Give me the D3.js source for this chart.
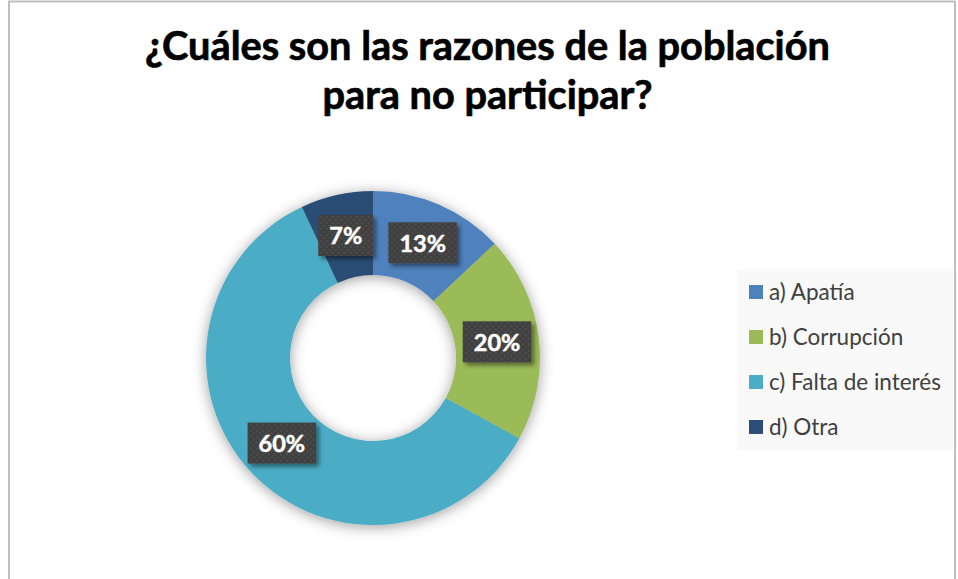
<!DOCTYPE html>
<html>
<head>
<meta charset="utf-8">
<script src="https://cdn.jsdelivr.net/npm/d3@7"></script>
<style>
  html, body { margin: 0; padding: 0; background: #fff; }
  svg { display: block; }
</style>
</head>
<body>
<div id="chart"></div>
<script>
const categories = ["a) Apatía", "b) Corrupción", "c) Falta de interés", "d) Otra"];
const values = [13, 20, 60, 7];
const labels = ["13%", "20%", "60%", "7%"];
const colors = ["#4F81BD", "#9BBB59", "#4BACC6", "#2C4D75"];
const titleLines = ["¿Cuáles son las razones de la población", "para no participar?"];

const width = 958, height = 579;
const cx = 373, cy = 358, outerR = 167, innerR = 83;

const svg = d3.select("#chart").append("svg")
  .attr("width", width)
  .attr("height", height);

const defs = svg.append("defs");

// soft shadow round the ring
const ringShadow = defs.append("filter").attr("id", "ringShadow")
  .attr("x", "-20%").attr("y", "-20%").attr("width", "140%").attr("height", "140%");
ringShadow.append("feDropShadow")
  .attr("dx", 0).attr("dy", 2)
  .attr("stdDeviation", 7)
  .attr("flood-color", "#000")
  .attr("flood-opacity", 0.38);

// shadow of label boxes
const boxShadow = defs.append("filter").attr("id", "boxShadow")
  .attr("x", "-20%").attr("y", "-20%").attr("width", "150%").attr("height", "150%");
boxShadow.append("feDropShadow")
  .attr("dx", 3).attr("dy", 3)
  .attr("stdDeviation", 2)
  .attr("flood-color", "#000")
  .attr("flood-opacity", 0.45);

// dotted texture of the label boxes
const dots = defs.append("pattern").attr("id", "dots")
  .attr("patternUnits", "userSpaceOnUse")
  .attr("width", 6).attr("height", 6);
dots.append("rect").attr("width", 6).attr("height", 6).attr("fill", "#404040");
dots.append("rect").attr("x", 1).attr("y", 1).attr("width", 2).attr("height", 2).attr("fill", "#4e4e4e");
dots.append("rect").attr("x", 4).attr("y", 4).attr("width", 2).attr("height", 2).attr("fill", "#4e4e4e");

// chart frame
svg.append("rect")
  .attr("x", 9).attr("y", 1.5)
  .attr("width", 946).attr("height", 620)
  .attr("fill", "#fff")
  .attr("stroke", "#bfbfbf")
  .attr("stroke-width", 2);

// fit a text element to a target width by changing its font size
function fitWidth(sel, target) {
  const node = sel.node();
  const size = parseFloat(sel.attr("font-size"));
  const w = node.getComputedTextLength();
  sel.attr("font-size", (size * target / w).toFixed(2));
}

// Title
const titleBase = [60, 109];
const titles = svg.selectAll(".title")
  .data(titleLines)
  .enter()
  .append("text")
    .attr("class", "title")
    .attr("x", 487.5)
    .attr("y", (d, i) => titleBase[i])
    .attr("text-anchor", "middle")
    .attr("font-family", "Lato, 'Open Sans', sans-serif")
    .attr("font-weight", "bold")
    .attr("font-size", 36)
    .attr("fill", "#000")
    .attr("stroke", "#000")
    .attr("stroke-width", 0.7)
    .text(d => d);
const firstLine = titles.filter((d, i) => i === 0);
fitWidth(firstLine, 685);
titles.attr("font-size", firstLine.attr("font-size"));

// Donut
const pie = d3.pie().sort(null).value(d => d);
const arc = d3.arc().innerRadius(innerR).outerRadius(outerR);
const labelArc = d3.arc().innerRadius((innerR + outerR) / 2).outerRadius((innerR + outerR) / 2);
const arcs = pie(values);

const g = svg.append("g").attr("transform", "translate(" + cx + "," + cy + ")");

g.append("g")
  .attr("filter", "url(#ringShadow)")
  .selectAll("path")
  .data(arcs)
  .enter()
  .append("path")
    .attr("d", arc)
    .attr("fill", (d, i) => colors[i]);

// Data labels
const lab = g.selectAll(".label")
  .data(arcs)
  .enter()
  .append("g")
    .attr("class", "label")
    .attr("transform", d => "translate(" + labelArc.centroid(d) + ")");

lab.append("rect")
  .attr("fill", "url(#dots)")
  .attr("filter", "url(#boxShadow)");

lab.append("text")
  .attr("text-anchor", "middle")
  .attr("dy", "0.36em")
  .attr("font-family", "Lato, 'Open Sans', sans-serif")
  .attr("font-weight", "bold")
  .attr("font-size", 23.5)
  .attr("fill", "#fff")
  .attr("stroke", "#fff")
  .attr("stroke-width", 0.5)
  .text((d, i) => labels[i]);

lab.each(function() {
  const w = d3.select(this).select("text").node().getComputedTextLength();
  d3.select(this).select("rect")
    .attr("x", -(w + 22) / 2)
    .attr("y", -21)
    .attr("width", w + 22)
    .attr("height", 41);
});

// Legend
const legend = svg.append("g");
legend.append("rect")
  .attr("x", 737).attr("y", 269)
  .attr("width", 216).attr("height", 181)
  .attr("fill", "#f9f9f9");

const rowY = d3.scalePoint().domain(categories).range([292, 427]);

const items = legend.selectAll(".item")
  .data(categories)
  .enter()
  .append("g")
    .attr("class", "item")
    .attr("transform", d => "translate(749," + rowY(d) + ")");

items.append("rect")
  .attr("x", 0).attr("y", -7)
  .attr("width", 14).attr("height", 14)
  .attr("fill", (d, i) => colors[i]);

items.append("text")
  .attr("x", 20)
  .attr("dy", "0.35em")
  .attr("font-family", "Lato, 'Open Sans', sans-serif")
  .attr("font-size", 19)
  .attr("fill", "#404040")
  .text(d => d);

// size legend text from its longest entry
const longest = items.filter((d, i) => i === 2).select("text");
fitWidth(longest, 172);
items.selectAll("text").attr("font-size", longest.attr("font-size"));
</script>
</body>
</html>
